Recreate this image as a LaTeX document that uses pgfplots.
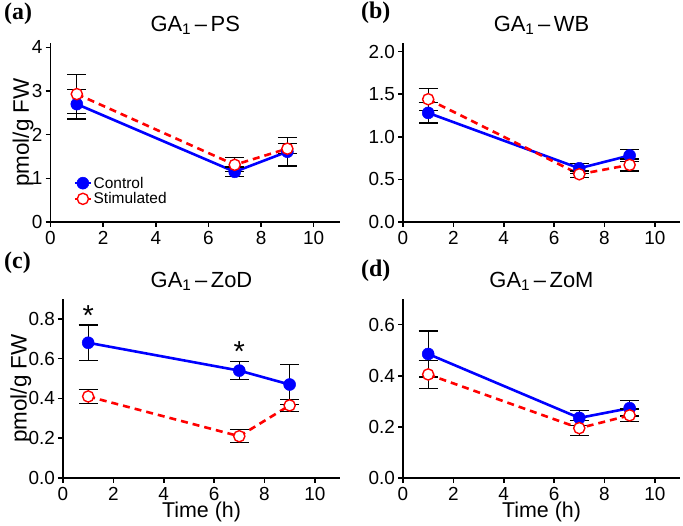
\documentclass[border=0pt]{standalone}
\usepackage{pgfplots}
\pgfplotsset{compat=1.18}
\usepackage{pgfplotstable}
\usepackage{fontspec}
\setmainfont{Liberation Sans}
\newfontfamily\panelfont{Liberation Serif}

\definecolor{ctrl}{RGB}{0,0,255}
\definecolor{stim}{RGB}{255,0,0}

% GA1 content (pmol/g FW): time, control mean, control s.e., stimulated mean, stimulated s.e.
\pgfplotstableread{
t c cerr s serr
1 2.70 0.34 2.93 0.45
7 1.15 0.11 1.31 0.16
9 1.61 0.33 1.68 0.11
}\tabPS
\pgfplotstableread{
t c cerr s serr
1 1.28 0.12 1.44 0.13
7 0.63 0.06 0.56 0.04
9 0.78 0.07 0.67 0.07
}\tabWB
\pgfplotstableread{
t c cerr s serr
1 0.68 0.090 0.41 0.035
7 0.54 0.045 0.21 0.033
9 0.47 0.100 0.365 0.030
}\tabZoD
\pgfplotstableread{
t c cerr s serr
1 0.485 0.090 0.405 0.055
7 0.235 0.030 0.195 0.030
9 0.273 0.030 0.245 0.025
}\tabZoM

\pgfplotsset{
  panel/.style={
    scale only axis, width=277bp, height=179bp,
    anchor=south west,
    axis lines=left, axis line style={-, line width=1.6bp, black},
    xmin=0, xmax=11, ymin=0,
    xtick={0,2,...,10},
    tick align=outside, major tick length=5bp,
    tick style={line width=1.6bp, black},
    tick label style={font=\fontsize{19}{19}\selectfont},
    /pgf/number format/assume math mode=true,
    xticklabel style={yshift=-0.5bp},
    yticklabel style={xshift=0.5bp},
    clip=false,
    title style={at={(axis description cs:0.5,1)}, anchor=base, yshift=6bp,
      font=\fontsize{22}{22}\selectfont},
    label style={font=\fontsize{22.5}{22.5}\selectfont},
  },
  onedec/.style={yticklabel style={/pgf/number format/.cd, fixed, fixed zerofill, precision=1}},
  ebars/.style={error bars/.cd, y dir=both, y explicit,
    error bar style={black, line width=1.3bp, solid},
    error mark options={black, rotate=90, mark size=9.5bp, line width=1.3bp, solid}},
  ctrlplot/.style={ctrl, line width=2.6bp, solid, mark=*, mark size=6bp,
    mark options={solid, fill=ctrl, draw=ctrl, line width=0.5bp}, ebars},
  stimplot/.style={stim, line width=2.6bp, dash pattern=on 7bp off 5bp, mark=*, mark size=5.6bp,
    mark options={solid, fill=white, draw=stim, line width=1.4bp}, ebars},
  timelabel/.style={xlabel={Time (h)},
    xlabel style={at={(axis description cs:0.5,0)}, anchor=base, yshift=-39.5bp,
      font=\fontsize{21.5}{21.5}\selectfont}},
}

\newcommand{\series}[1]{%
  \addplot[ctrlplot] table[x=t, y=c, y error=cerr] {#1};
  \addplot[stimplot] table[x=t, y=s, y error=serr] {#1};
}

\begin{document}
\begin{tikzpicture}
\useasboundingbox (0,0) rectangle (683bp,526bp);

% (a) phloem sap
\begin{axis}[panel, at={(50.5bp,304bp)}, width=289.5bp, ymax=4.1, ytick={0,1,2,3,4},
  title={GA\textsubscript{1}\,–\,PS},
  ylabel={pmol/g FW}, ylabel style={at={(axis description cs:-0.095,0.5)}, anchor=center},
  legend style={draw=none, fill=none, at={(axis cs:0.87,0.71)}, anchor=west,
    font=\fontsize{15.5}{15.5}\selectfont, row sep=0bp, inner sep=0pt,
    nodes={inner sep=1.5bp}},
  legend cell align=left,
  legend image code/.code={\draw[mark repeat=2, mark phase=2, #1] plot coordinates {(0bp,0bp) (8bp,0bp) (16bp,0bp)};}]
\series{\tabPS}
\legend{Control, Stimulated}
\end{axis}

% (b) whole bud
\begin{axis}[panel, onedec, at={(403bp,304bp)}, ymax=2.1, ytick={0,0.5,...,2.0},
  title={GA\textsubscript{1}\,–\,WB}]
\series{\tabWB}
\end{axis}

% (c) zone of differentiation
\begin{axis}[panel, onedec, timelabel, at={(63bp,48bp)}, ymax=0.9, ytick={0,0.2,...,0.8},
  title={GA\textsubscript{1}\,–\,ZoD},
  ylabel={pmol/g FW}, ylabel style={at={(axis description cs:-0.152,0.5)}, anchor=center}]
\series{\tabZoD}
\node[font=\fontsize{29}{29}\selectfont, yshift=-3bp] at (axis cs:1,0.83) {*};
\node[font=\fontsize{29}{29}\selectfont, yshift=-3bp] at (axis cs:7,0.65) {*};
\end{axis}

% (d) zone of meristem
\begin{axis}[panel, onedec, timelabel, at={(403bp,48bp)}, ymax=0.7, ytick={0,0.2,...,0.6},
  title={GA\textsubscript{1}\,–\,ZoM}]
\series{\tabZoM}
\end{axis}

% panel letters
\begin{scope}[every node/.style={anchor=base west, inner sep=0pt, font=\panelfont\bfseries\fontsize{24}{24}\selectfont}]
\node at (4bp,506bp) {(a)};
\node at (361bp,507.5bp) {(b)};
\node at (4bp,257.5bp) {(c)};
\node at (361bp,249bp) {(d)};
\end{scope}
\end{tikzpicture}
\end{document}
